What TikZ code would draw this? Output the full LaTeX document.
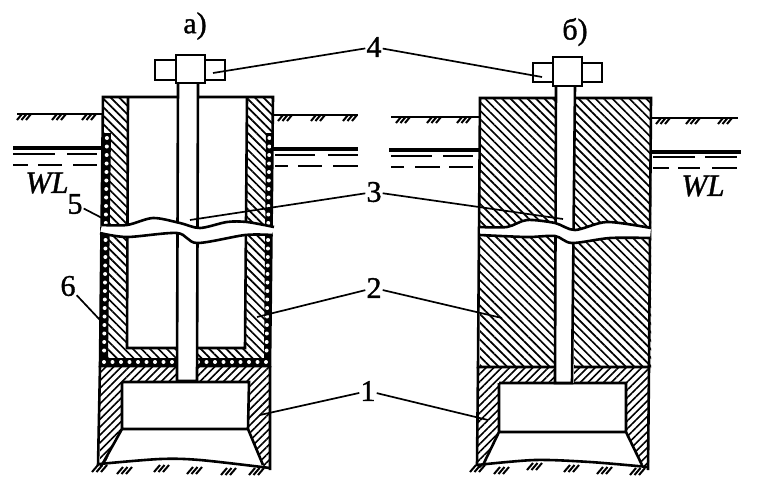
\documentclass[tikz,border=0pt]{standalone}
\usepackage{fontspec}
\setmainfont{Liberation Serif}[BoldFont=Liberation Serif,BoldFeatures={FakeBold=1.2},BoldItalicFont=Liberation Serif Italic,BoldItalicFeatures={FakeBold=1.2}]
\usetikzlibrary{patterns.meta}
\begin{document}
\begin{tikzpicture}[x=1pt,y=-1pt,font=\fontsize{30}{30}\selectfont\bfseries]
  \tikzstyle{edge line}=[line width=2.6pt,line join=miter]
  \tikzstyle{thin line}=[line width=2pt]
  \tikzstyle{leader}=[line width=1.7pt]
  \tikzstyle{ground line}=[line width=2.4pt]
  \tikzstyle{water line}=[line width=3.4pt]
  \tikzstyle{back hatch}=[pattern={Lines[angle=-45,distance=6pt,line width=1.7pt]}]
  \tikzstyle{fore hatch}=[pattern={Lines[angle=45,distance=5.5pt,line width=1.6pt]}]
  \tikzstyle{num}=[inner sep=1pt]
  \def\waveAup{(102,225) (127,225) (153,218) (180,223) (200,228) (227,222) (247,222) (274,227)}
  \def\waveAlow{(272,235) (245,235) (197,243) (177,233) (127,237) (100,233)}
  \def\waveBup{(480,227) (507,227) (527,220) (555,223) (575,230) (607,222) (651,228)}
  \def\waveBlow{(650,238) (610,238) (572,243) (555,236) (527,237) (480,235)}
  \useasboundingbox (0,0) rectangle (771,496);
  % ground and water
  \foreach \xa/\xb/\y in {17/102/114,273/358/115,391/480/117,651/738/118}
    \draw[ground line] (\xa,\y) -- (\xb,\y);
  \foreach \x/\y in {22/114,57/114,87/114,283/115,316/115,348/115,401/117,432/117,462/117,661/118,691/118,723/118}
    \foreach \d in {0,4.5,9}
      \draw[thin line] (\x+\d,\y) -- (\x+\d-5,\y+6);
  \foreach \xa/\xb/\y in {13/102/148,273/358/149,389/480/150,651/741/152}
    \draw[water line] (\xa,\y) -- (\xb,\y);
  \foreach \xa/\xb/\y in {13/55/154,67/97/154,275/315/155,328/358/155,391/432/156,443/473/156,653/695/157,705/737/157,
      13/28/165,38/62/165,73/97/165,275/288/166,298/322/166,333/358/166,391/404/167,415/440/167,449/473/167,653/669/168,678/700/168,712/737/168}
    \draw[thin line] (\xa,\y) -- (\xb,\y);
  % caisson a
  \path[fore hatch] (100,366) rectangle (270,468);
  \fill[white] (122,382) -- (249,382) -- (248,429) -- (265,470) -- (102,470) -- (122,429) -- cycle;
  \draw[edge line] (122,382) -- (249,382) -- (248,429) -- (263,465) (122,382) -- (122,429) -- (103,463) (122,429) -- (248,429);
  \draw[edge line] (100,366) -- (98,466) (270,366) -- (270,470);
  \draw[edge line] plot[smooth] coordinates {(99,464) (160,459) (200,460) (270,468)};
  % shell a with porous layer
  \path[back hatch] (103,97) -- (128,97) -- (127,348) -- (245,348) -- (247,97) -- (273,97) -- (270,366) -- (100,366) -- cycle;
  \fill[black] (103,133) -- (111,133) -- (108,358) -- (264,358) -- (266,133) -- (273,133) -- (270,366) -- (100,366) -- cycle;
  \foreach \y in {138,146.5,...,356}
    \fill[white] ({107-3*(\y-133)/225},\y) circle (2pt) ({269.5-3*(\y-133)/225},\y) circle (2pt);
  \foreach \x in {104,112.5,...,176,198,206.5,...,267}
    \fill[white] (\x,362) circle (2pt);
  \draw[edge line] (103,97) -- (273,97) -- (270,366) -- (100,366) -- cycle;
  \draw[edge line] (128,97) -- (127,348) -- (245,348) -- (247,97);
  % rod a
  \fill[white] (178,83) rectangle (197,381);
  \draw[edge line] (178,83) -- (177,381) -- (197,381) -- (198,83);
  % break a
  \fill[white] plot[smooth] coordinates {\waveAup} -- plot[smooth] coordinates {\waveAlow} -- cycle;
  \draw[edge line] plot[smooth] coordinates {\waveAup};
  \draw[edge line] plot[smooth] coordinates {\waveAlow};
  % head a
  \draw[edge line] (155,60) rectangle (176,80) (205,60) rectangle (225,80);
  \draw[edge line,fill=white] (176,55) rectangle (205,83);
  % caisson b
  \path[fore hatch] (478,367) rectangle (649,467);
  \fill[white] (499,383) -- (626,383) -- (626,432) -- (644,470) -- (480,470) -- (499,432) -- cycle;
  \draw[edge line] (499,383) -- (626,383) -- (626,432) -- (642,465) (499,383) -- (499,432) -- (483,465) (499,432) -- (626,432);
  \draw[edge line] (478,367) -- (477,466) (649,367) -- (648,470);
  \draw[edge line] plot[smooth] coordinates {(477,465) (535,460) (590,462) (648,467)};
  % body b
  \path[back hatch] (480,98) rectangle (651,367);
  \draw[edge line] (480,98) -- (651,98) -- (649,367) -- (478,367) -- cycle;
  % rod b
  \fill[white] (556,86) rectangle (574,383);
  \draw[edge line] (556,86) -- (555,383) -- (572,383) -- (575,86);
  % break b
  \fill[white] plot[smooth] coordinates {\waveBup} -- plot[smooth] coordinates {\waveBlow} -- cycle;
  \draw[edge line] plot[smooth] coordinates {\waveBup};
  \draw[edge line] plot[smooth] coordinates {\waveBlow};
  % head b
  \draw[edge line] (533,63) rectangle (553,82) (582,63) rectangle (602,82);
  \draw[edge line,fill=white] (553,57) rectangle (582,86);
  % bottom ground marks
  \foreach \x/\y in {98/465,123/467,160/465,193/467,227/468,255/468,
      476/465,500/467,533/463,570/465,603/467,636/468}
    \foreach \d in {0,4.5,9}
      \draw[thin line] (\x+\d,\y) -- (\x+\d-6,\y+7);
  % texts
  \node(title a) at (195,26) {a)};
  \node(title b) at (575,32) {б)};
  \node(wl a)[font=\fontsize{31}{31}\selectfont\bfseries\itshape] at (47,183) {WL};
  \node(wl b)[font=\fontsize{31}{31}\selectfont\bfseries\itshape] at (703,186) {WL};
  \node(n4)[num] at (374,47) {4};
  \node(n3)[num] at (374,192) {3};
  \node(n2)[num] at (374,288) {2};
  \node(n1)[num] at (368,391) {1};
  \node(n5)[num] at (75,204) {5};
  \node(n6)[num] at (68,286) {6};
  % leaders
  \coordinate(tip4a) at (213,73);
  \coordinate(tip4b) at (542,77);
  \coordinate(tip3a) at (190,220);
  \coordinate(tip3b) at (563,219);
  \coordinate(tip2a) at (257,317);
  \coordinate(tip2b) at (502,318);
  \coordinate(tip1a) at (260,415);
  \coordinate(tip1b) at (488,420);
  \coordinate(tip5) at (102,218);
  \coordinate(tip6) at (100,320);
  \draw[leader] (n4) -- (tip4a);
  \draw[leader] (n4) -- (tip4b);
  \draw[leader] (n3) -- (tip3a);
  \draw[leader] (n3) -- (tip3b);
  \draw[leader] (n2) -- (tip2a);
  \draw[leader] (n2) -- (tip2b);
  \draw[leader] (n1) -- (tip1a);
  \draw[leader] (n1) -- (tip1b);
  \draw[leader] (n5) -- (tip5);
  \draw[leader] (n6) -- (tip6);
\end{tikzpicture}
\end{document}
